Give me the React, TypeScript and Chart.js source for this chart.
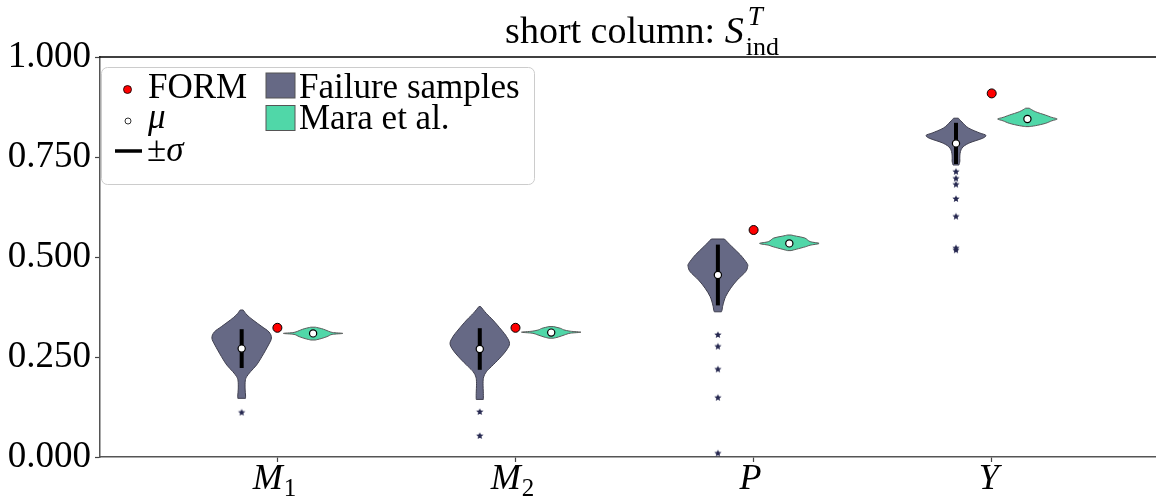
import React, { useEffect, useRef } from 'react';
import { Chart, registerables } from 'chart.js';

Chart.register(...registerables);

const FONT = "'Liberation Serif', 'DejaVu Serif', serif";

// ---------------- data ----------------
const categoryNames = ['M', 'M', 'P', 'Y'];
const categorySubscripts = ['1', '2', '', ''];
const categoryPositions = [0, 1, 2, 3];
const yTickValues = [0, 0.25, 0.5, 0.75, 1.0];

const formValues = [0.323, 0.323, 0.5675, 0.909];

const failureMeans = [0.271, 0.27, 0.455, 0.784];
const failureStds = [0.0485, 0.052, 0.076, 0.0515];
const maraMeans = [0.309, 0.311, 0.534, 0.845];
const maraStds = [0.003, 0.003, 0.004, 0.004];

const outliersM1 = [0.111];
const outliersM2 = [0.1125, 0.0525];
const outliersP = [0.305, 0.276, 0.219, 0.148, 0.009];
const outliersY = [0.713, 0.696, 0.681, 0.645, 0.601, 0.522, 0.517];

// violin density profiles: [value, relative density], from max value to min value
const failureProfileM1: [number, number][] = [
  [0.3675, 0.05], [0.355, 0.18], [0.3425, 0.38], [0.326, 0.68], [0.3125, 0.92], [0.2975, 1.0],
  [0.28, 0.9], [0.251, 0.68], [0.23, 0.5], [0.2135, 0.3], [0.201, 0.17], [0.19, 0.12],
  [0.17, 0.115], [0.155, 0.13], [0.1467, 0.13],
];
const failureProfileM2: [number, number][] = [
  [0.376, 0.03], [0.359, 0.22], [0.3425, 0.44], [0.3175, 0.73], [0.301, 0.9], [0.284, 1.0],
  [0.2675, 0.9], [0.247, 0.67], [0.226, 0.39], [0.213, 0.22], [0.2, 0.13], [0.184, 0.11],
  [0.159, 0.12], [0.144, 0.12],
];
const failureProfileP: [number, number][] = [
  [0.545, 0.22], [0.526, 0.47], [0.505, 0.76], [0.484, 0.98], [0.476, 1.0], [0.463, 0.93],
  [0.4425, 0.65], [0.422, 0.43], [0.401, 0.26], [0.38, 0.17], [0.3675, 0.14], [0.363, 0.12],
];
const failureProfileY: [number, number][] = [
  [0.847, 0.08], [0.8375, 0.2], [0.8225, 0.42], [0.81, 0.8], [0.8045, 1.0], [0.797, 0.9],
  [0.7845, 0.43], [0.772, 0.2], [0.755, 0.13], [0.74, 0.13], [0.73, 0.1],
];
const maraProfileM1: [number, number][] = [
  [0.3245, 0.08], [0.321, 0.28], [0.3175, 0.42], [0.3115, 0.64], [0.309, 1.0], [0.3065, 0.64],
  [0.301, 0.47], [0.296, 0.27], [0.2925, 0.08],
];
const maraProfileM2: [number, number][] = [
  [0.326, 0.08], [0.3215, 0.32], [0.318, 0.42], [0.3145, 0.64], [0.312, 1.0], [0.3095, 0.64],
  [0.305, 0.44], [0.3, 0.24], [0.297, 0.08],
];
const maraProfileP: [number, number][] = [
  [0.555, 0.06], [0.552, 0.24], [0.5475, 0.52], [0.5385, 0.7], [0.534, 1.0], [0.5295, 0.7],
  [0.5255, 0.54], [0.5195, 0.24], [0.516, 0.06],
];
const maraProfileY: [number, number][] = [
  [0.872, 0.06], [0.8633, 0.27], [0.855, 0.6], [0.849, 0.82], [0.845, 1.0], [0.8405, 0.82],
  [0.834, 0.6], [0.8283, 0.27], [0.826, 0.06],
];

const failureProfiles = [failureProfileM1, failureProfileM2, failureProfileP, failureProfileY];
const maraProfiles = [maraProfileM1, maraProfileM2, maraProfileP, maraProfileY];
const outlierGroups = [outliersM1, outliersM2, outliersP, outliersY];

const legendLabels = ['FORM', 'μ', '±σ', 'Failure samples', 'Mara et al.'];
const titleMain = 'short column: ';

// ---------------- style ----------------
const FAIL_OFFSET = -0.15;
const MARA_OFFSET = 0.15;
const VIOLIN_HALF = 0.125;
const FAIL_FILL = '#666985';
const FAIL_EDGE = '#3e3e4e';
const MARA_FILL = '#50d7a8';
const MARA_EDGE = '#5a5a5a';
const STAR_COLOR = '#262850';

type P = { x: number; y: number };

function spline(ctx: CanvasRenderingContext2D, pts: P[]) {
  for (let i = 0; i < pts.length - 1; i++) {
    const p0 = pts[i - 1] || pts[i];
    const p1 = pts[i];
    const p2 = pts[i + 1];
    const p3 = pts[i + 2] || p2;
    ctx.bezierCurveTo(
      p1.x + (p2.x - p0.x) / 6, p1.y + (p2.y - p0.y) / 6,
      p2.x - (p3.x - p1.x) / 6, p2.y - (p3.y - p1.y) / 6,
      p2.x, p2.y
    );
  }
}

function drawViolin(ctx: CanvasRenderingContext2D, xs: any, ys: any, center: number, profile: [number, number][], fill: string, edge: string) {
  const cx = xs.getPixelForValue(center);
  const hw = Math.abs(xs.getPixelForValue(center + VIOLIN_HALF) - cx);
  const right = profile.map(([v, d]) => ({ x: cx + d * hw, y: ys.getPixelForValue(v) }));
  const left = profile.map(([v, d]) => ({ x: cx - d * hw, y: ys.getPixelForValue(v) })).reverse();
  ctx.beginPath();
  ctx.moveTo(right[0].x, right[0].y);
  spline(ctx, right);
  ctx.lineTo(left[0].x, left[0].y);
  spline(ctx, left);
  ctx.closePath();
  ctx.fillStyle = fill;
  ctx.fill();
  ctx.strokeStyle = edge;
  ctx.lineWidth = 1;
  ctx.stroke();
}

function makeStar(color: string, r: number) {
  const c = document.createElement('canvas');
  const s = Math.ceil(r * 2 + 2);
  c.width = s;
  c.height = s;
  const g = c.getContext('2d')!;
  g.beginPath();
  for (let i = 0; i < 10; i++) {
    const a = -Math.PI / 2 + (i * Math.PI) / 5;
    const rad = i % 2 ? r * 0.45 : r;
    const x = s / 2 + rad * Math.cos(a);
    const y = s / 2 + rad * Math.sin(a);
    if (i === 0) g.moveTo(x, y);
    else g.lineTo(x, y);
  }
  g.closePath();
  g.fillStyle = color;
  g.fill();
  return c;
}

const violinPlugin = {
  id: 'violins',
  beforeDatasetsDraw(chart: any) {
    const ctx = chart.ctx as CanvasRenderingContext2D;
    const xs = chart.scales.x;
    const ys = chart.scales.y;
    ctx.save();
    categoryPositions.forEach((pos, i) => {
      drawViolin(ctx, xs, ys, pos + FAIL_OFFSET, failureProfiles[i], FAIL_FILL, FAIL_EDGE);
      drawViolin(ctx, xs, ys, pos + MARA_OFFSET, maraProfiles[i], MARA_FILL, MARA_EDGE);
      ctx.strokeStyle = '#000';
      ctx.lineWidth = 4;
      ctx.lineCap = 'butt';
      const fx = xs.getPixelForValue(pos + FAIL_OFFSET);
      ctx.beginPath();
      ctx.moveTo(fx, ys.getPixelForValue(failureMeans[i] + failureStds[i]));
      ctx.lineTo(fx, ys.getPixelForValue(failureMeans[i] - failureStds[i]));
      ctx.stroke();
      const mx = xs.getPixelForValue(pos + MARA_OFFSET);
      ctx.beginPath();
      ctx.moveTo(mx, ys.getPixelForValue(maraMeans[i] + maraStds[i]));
      ctx.lineTo(mx, ys.getPixelForValue(maraMeans[i] - maraStds[i]));
      ctx.stroke();
    });
    ctx.restore();
  },
};

const decorPlugin = {
  id: 'decor',
  afterDraw(chart: any) {
    const ctx = chart.ctx as CanvasRenderingContext2D;
    const area = chart.chartArea;
    const xs = chart.scales.x;
    ctx.save();
    // top spine
    ctx.strokeStyle = '#000';
    ctx.lineWidth = 1.5;
    ctx.beginPath();
    ctx.moveTo(area.left - 0.75, area.top);
    ctx.lineTo(area.right, area.top);
    ctx.stroke();

    ctx.fillStyle = '#000';
    ctx.textBaseline = 'alphabetic';

    // title
    const fMain = `38px ${FONT}`;
    const fS = `italic 38px ${FONT}`;
    const fSup = `italic 27px ${FONT}`;
    const fSub = `26px ${FONT}`;
    ctx.font = fMain;
    const w1 = ctx.measureText(titleMain).width;
    ctx.font = fS;
    const w2 = ctx.measureText('S').width;
    ctx.font = fSup;
    const w3 = ctx.measureText('T').width;
    ctx.font = fSub;
    const w4 = ctx.measureText('ind').width;
    const total = w1 + w2 + 2 + Math.max(w3, w4);
    let tx = 642 - total / 2;
    ctx.textAlign = 'left';
    ctx.font = fMain;
    ctx.fillText(titleMain, tx, 43);
    tx += w1;
    ctx.font = fS;
    ctx.fillText('S', tx, 43);
    tx += w2 + 2;
    ctx.font = fSup;
    ctx.fillText('T', tx + 2, 25);
    ctx.font = fSub;
    ctx.fillText('ind', tx, 55);

    // x labels
    categoryPositions.forEach((pos, i) => {
      const px = xs.getPixelForValue(pos);
      ctx.font = `italic 36px ${FONT}`;
      const wm = ctx.measureText(categoryNames[i]).width;
      ctx.font = `25px ${FONT}`;
      const ws = categorySubscripts[i] ? ctx.measureText(categorySubscripts[i]).width + 1 : 0;
      const sx = px - (wm + ws) / 2 - 3;
      ctx.font = `italic 36px ${FONT}`;
      ctx.fillText(categoryNames[i], sx, 489);
      if (categorySubscripts[i]) {
        ctx.font = `25px ${FONT}`;
        ctx.fillText(categorySubscripts[i], sx + wm + 1, 496);
      }
    });

    // legend
    const bx = 101.5, by = 67.5, bw = 433, bh = 117;
    ctx.beginPath();
    (ctx as any).roundRect(bx, by, bw, bh, 6);
    ctx.fillStyle = 'rgba(255,255,255,0.8)';
    ctx.fill();
    ctx.strokeStyle = '#cccccc';
    ctx.lineWidth = 1;
    ctx.stroke();

    // FORM marker
    ctx.beginPath();
    ctx.arc(127.5, 89.5, 4, 0, Math.PI * 2);
    ctx.fillStyle = '#ff0000';
    ctx.fill();
    ctx.strokeStyle = '#000';
    ctx.lineWidth = 0.8;
    ctx.stroke();
    // mean marker
    ctx.beginPath();
    ctx.arc(128, 121, 3, 0, Math.PI * 2);
    ctx.fillStyle = '#fff';
    ctx.fill();
    ctx.strokeStyle = '#000';
    ctx.lineWidth = 0.8;
    ctx.stroke();
    // sigma line
    ctx.beginPath();
    ctx.moveTo(115, 151);
    ctx.lineTo(142, 151);
    ctx.lineWidth = 3.5;
    ctx.strokeStyle = '#000';
    ctx.stroke();
    // patches
    ctx.lineWidth = 1;
    ctx.fillStyle = FAIL_FILL;
    ctx.fillRect(266, 73, 29, 25);
    ctx.strokeStyle = '#555';
    ctx.strokeRect(266, 73, 29, 25);
    ctx.fillStyle = MARA_FILL;
    ctx.fillRect(266, 105.5, 29, 25);
    ctx.strokeRect(266, 105.5, 29, 25);

    ctx.fillStyle = '#000';
    ctx.font = `35px ${FONT}`;
    ctx.fillText(legendLabels[0], 148, 98);
    ctx.font = `italic 35px ${FONT}`;
    ctx.fillText(legendLabels[1], 148, 128);
    ctx.font = `35px ${FONT}`;
    const pm = legendLabels[2].charAt(0);
    ctx.fillText(pm, 147, 161);
    const wpm = ctx.measureText(pm).width;
    ctx.font = `italic 35px ${FONT}`;
    ctx.fillText(legendLabels[2].slice(1), 147 + wpm, 161);
    ctx.font = `35px ${FONT}`;
    ctx.fillText(legendLabels[3], 299, 98);
    ctx.fillText(legendLabels[4], 299, 129);

    ctx.restore();
  },
};

export default function App() {
  const ref = useRef<HTMLCanvasElement | null>(null);

  useEffect(() => {
    const canvas = ref.current;
    if (!canvas) return;
    const star = makeStar(STAR_COLOR, 3.8);

    const outlierData: { x: number; y: number }[] = [];
    outlierGroups.forEach((g, i) => g.forEach((v) => outlierData.push({ x: categoryPositions[i] + FAIL_OFFSET, y: v })));
    const formData = categoryPositions.map((p, i) => ({ x: p, y: formValues[i] }));
    const meanData = [
      ...categoryPositions.map((p, i) => ({ x: p + FAIL_OFFSET, y: failureMeans[i] })),
      ...categoryPositions.map((p, i) => ({ x: p + MARA_OFFSET, y: maraMeans[i] })),
    ];

    const grid = { drawOnChartArea: false, drawTicks: true, tickLength: 5, tickColor: '#444', tickWidth: 1.2 };
    const border = { display: true, color: '#555', width: 1.5 };

    const chart = new Chart(canvas, {
      type: 'scatter',
      data: {
        datasets: [
          { label: 'outliers', data: outlierData, pointStyle: star as any, pointRadius: 4 },
          {
            label: 'FORM', data: formData, backgroundColor: '#ff0000', borderColor: '#000',
            borderWidth: 1, pointRadius: 4.5,
          },
          {
            label: 'mean', data: meanData, backgroundColor: '#ffffff', borderColor: '#000',
            borderWidth: 1.2, pointRadius: 3.6,
          },
        ],
      },
      options: {
        animation: false,
        responsive: false,
        events: [],
        layout: { autoPadding: false, padding: { top: 57, left: 0, right: 0, bottom: 0 } },
        plugins: { legend: { display: false }, tooltip: { enabled: false }, title: { display: false } },
        scales: {
          x: {
            type: 'linear',
            min: -0.745,
            max: 3.69,
            afterBuildTicks: (s: any) => { s.ticks = categoryPositions.map((v) => ({ value: v })); },
            afterFit: (s: any) => {
              s.height = 41;
              s.paddingLeft = 0;
              s.paddingRight = 0;
            },
            ticks: { callback: () => '', autoSkip: false, maxRotation: 0, padding: 0 },
            grid,
            border,
          },
          y: {
            type: 'linear',
            min: 0,
            max: 1,
            afterBuildTicks: (s: any) => { s.ticks = yTickValues.map((v) => ({ value: v })); },
            afterFit: (s: any) => {
              s.width = 100;
            },
            ticks: {
              callback: (v: any) => Number(v).toFixed(3),
              font: { family: FONT, size: 37 },
              color: '#000',
              padding: 4,
              autoSkip: false,
            },
            grid,
            border,
          },
        },
      } as any,
      plugins: [violinPlugin, decorPlugin],
    });
    return () => chart.destroy();
  }, []);

  return (
    <div style={{ position: 'absolute', left: 0, top: 0, width: 1156, height: 498 }}>
      <canvas ref={ref} width={1156} height={498} style={{ display: 'block' }} />
    </div>
  );
}
